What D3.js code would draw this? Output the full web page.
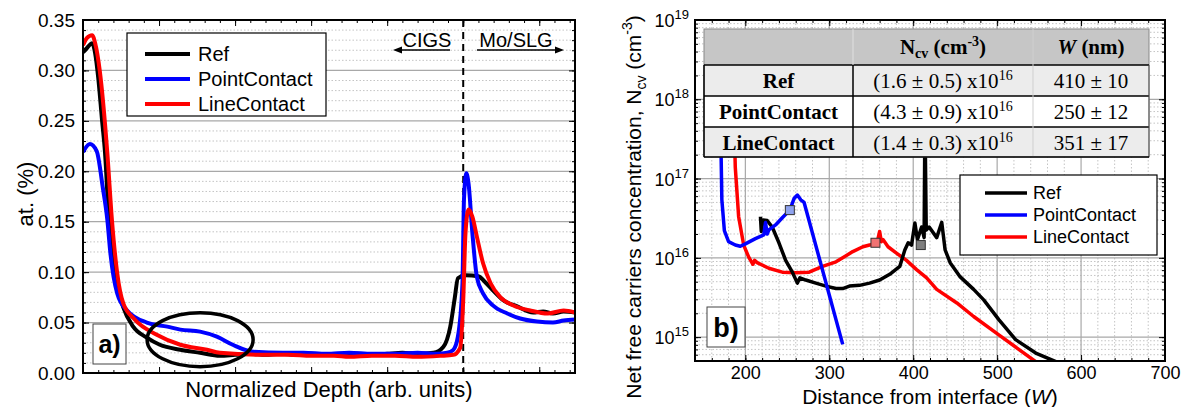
<!DOCTYPE html>
<html>
<head>
<meta charset="utf-8">
<script src="https://cdn.jsdelivr.net/npm/d3@7"></script>
<style>
  body { margin: 0; background: #fff; }
  svg { display: block; font-family: "Liberation Sans", Arial, sans-serif; }
</style>
</head>
<body>
<svg id="chart" width="1184" height="407"></svg>
<script>
// ---- panel a data (normalized depth, at. %) ----
const depthRef = [0, 0.05, 0.12, 0.16, 0.20, 0.25, 0.29, 0.34, 0.42, 0.53, 0.66, 0.84, 1.01, 1.28, 1.54, 1.80, 2.0, 2.2, 2.4, 2.6, 2.8, 3.0, 3.2, 3.4, 3.6, 3.8, 4.0, 4.2, 4.4, 4.61, 4.74, 4.83, 4.89, 4.93, 5.03, 5.20, 5.29, 5.39, 5.53, 5.71, 5.92, 6.05, 6.18, 6.32, 6.47];
const atRef    = [0.318, 0.322, 0.327, 0.317, 0.293, 0.251, 0.218, 0.152, 0.099, 0.065, 0.046, 0.035, 0.028, 0.023, 0.020, 0.017, 0.018, 0.019, 0.018, 0.019, 0.018, 0.019, 0.018, 0.018, 0.019, 0.018, 0.019, 0.020, 0.019, 0.020, 0.026, 0.046, 0.075, 0.094, 0.097, 0.096, 0.090, 0.082, 0.072, 0.066, 0.060, 0.061, 0.059, 0.061, 0.060];

const depthPoint = [0, 0.09, 0.18, 0.26, 0.32, 0.36, 0.45, 0.58, 0.84, 1.11, 1.28, 1.54, 1.76, 1.97, 2.24, 2.63, 2.9, 3.2, 3.5, 3.8, 4.1, 4.4, 4.65, 4.79, 4.87, 4.93, 4.99, 5.01, 5.04, 5.07, 5.12, 5.18, 5.26, 5.39, 5.58, 5.75, 5.97, 6.18, 6.32, 6.47];
const atPoint    = [0.219, 0.227, 0.220, 0.184, 0.152, 0.119, 0.079, 0.062, 0.050, 0.046, 0.043, 0.041, 0.036, 0.028, 0.021, 0.020, 0.020, 0.019, 0.020, 0.019, 0.019, 0.020, 0.019, 0.020, 0.023, 0.036, 0.089, 0.172, 0.198, 0.188, 0.139, 0.095, 0.079, 0.067, 0.059, 0.054, 0.051, 0.050, 0.052, 0.053];

const depthLine = [0, 0.05, 0.12, 0.16, 0.22, 0.32, 0.38, 0.45, 0.53, 0.68, 0.97, 1.28, 1.63, 1.80, 2.42, 2.7, 3.0, 3.3, 3.5, 3.8, 4.1, 4.4, 4.7, 4.87, 4.96, 5.0, 5.03, 5.07, 5.12, 5.18, 5.26, 5.36, 5.49, 5.66, 5.88, 6.11, 6.32, 6.47];
const atLine    = [0.325, 0.332, 0.335, 0.327, 0.300, 0.218, 0.152, 0.099, 0.069, 0.053, 0.038, 0.028, 0.023, 0.020, 0.018, 0.018, 0.017, 0.017, 0.016, 0.017, 0.017, 0.016, 0.017, 0.018, 0.025, 0.072, 0.139, 0.162, 0.155, 0.135, 0.109, 0.089, 0.075, 0.067, 0.062, 0.059, 0.062, 0.060];

const yTicksA = [0, 0.05, 0.10, 0.15, 0.20, 0.25, 0.30, 0.35];

// ---- panel b data (distance nm, Ncv cm^-3) ----
const distRef = [218, 219, 221, 226, 232, 240, 248, 256, 262, 265, 272, 284, 296, 308, 316, 324, 336, 348, 360, 372, 384, 390, 394, 398, 402, 405, 410, 413, 414, 415.5, 419, 428, 434, 438, 444, 456, 472, 484, 502, 522, 546, 570];
const ncvRef  = [3.3e16, 2.15e16, 3.0e16, 2.95e16, 2.45e16, 1.55e16, 9.3e15, 6.6e15, 4.8e15, 5.6e15, 5.25e15, 4.8e15, 4.4e15, 4.1e15, 4.1e15, 4.4e15, 4.5e15, 4.8e15, 5.25e15, 6.2e15, 7.8e15, 1.26e16, 1.55e16, 1.45e16, 2.75e16, 1.7e16, 2.45e16, 1.8e16, 6.3e17, 2.25e16, 2.45e16, 1.8e16, 2.8e16, 1.26e16, 8.7e15, 5.75e15, 4.0e15, 2.95e15, 1.66e15, 9.3e14, 6.3e14, 4.9e14];

const distPoint = [170.5, 171, 172, 175, 180, 188, 194, 200, 212, 222, 224, 226, 228, 236, 244, 253, 258, 262, 266, 270, 316];
const ncvPoint  = [5e17, 2.3e17, 5.4e16, 2.2e16, 1.6e16, 1.45e16, 1.4e16, 1.5e16, 1.75e16, 1.95e16, 2.8e16, 2.0e16, 2.25e16, 2.6e16, 3.2e16, 4.0e16, 5.6e16, 6.2e16, 5.4e16, 5.0e16, 8.1e14];

const distLine = [186.5, 188, 192, 198, 204, 209, 211, 214, 228, 244, 260, 276, 292, 308, 316, 328, 340, 348, 355, 358, 360, 362, 364, 370, 380, 392, 404, 416, 428, 452, 472, 502, 546];
const ncvLine  = [6.3e17, 1.38e17, 3.3e16, 1.45e16, 1.02e16, 8.3e15, 9.3e15, 8.7e15, 7.4e15, 6.6e15, 6.5e15, 6.6e15, 7.8e15, 8.9e15, 1.0e16, 1.2e16, 1.38e16, 1.45e16, 1.55e16, 1.74e16, 2.15e16, 1.6e16, 1.7e16, 1.38e16, 1.15e16, 9.3e15, 7.1e15, 5.6e15, 4.0e15, 2.7e15, 1.82e15, 1.07e15, 4.9e14];

// W markers
const markW   = [409, 253, 355];
const markNcv = [1.45e16, 4.0e16, 1.55e16];

const seriesNames  = ["Ref", "PointContact", "LineContact"];
const seriesColors = ["#000000", "#0000ff", "#ff0000"];
const markerFills  = ["#7f7f7f", "#8fa3ee", "#f07272"];

// table
const tblNcv = ["(1.6 ± 0.5) x10", "(4.3 ± 0.9) x10", "(1.4 ± 0.3) x10"];
const tblW   = ["410 ± 10", "250 ± 12", "351 ± 17"];

const svg = d3.select("#chart");
svg.append("rect").attr("width", 1184).attr("height", 407).attr("fill", "#fff");

function styleAxis(g, size) {
  g.attr("font-family", "Liberation Sans, Arial, sans-serif").attr("font-size", size);
  g.select(".domain").remove();
  g.selectAll("line").attr("stroke", "#000").attr("stroke-width", 1);
  g.selectAll("text").attr("fill", "#000");
}

// =================== panel a ===================
const A = { left: 83, right: 575, top: 20, bottom: 373 };
const xa = d3.scaleLinear().domain([0, 6.47]).range([A.left, A.right]);
const ya = d3.scaleLinear().domain([0, 0.35]).range([A.bottom, A.top]);
const ga = svg.append("g");

ga.append("clipPath").attr("id", "clipA").append("rect")
  .attr("x", A.left).attr("y", A.top).attr("width", A.right - A.left).attr("height", A.bottom - A.top);

const minorYA = d3.range(0, 36).map(i => i / 100);
ga.append("g").selectAll("line").data(minorYA.filter(d => Math.round(d * 100) % 5 !== 0)).join("line")
  .attr("x1", A.left).attr("x2", A.right).attr("y1", d => ya(d)).attr("y2", d => ya(d))
  .attr("stroke", "#c4c4c4").attr("stroke-width", 1).attr("stroke-dasharray", "1.5,2");
ga.append("g").selectAll("line").data(yTicksA.slice(1, -1)).join("line")
  .attr("x1", A.left).attr("x2", A.right).attr("y1", d => ya(d)).attr("y2", d => ya(d))
  .attr("stroke", "#a8a8a8").attr("stroke-width", 1.2);

const majorXA = d3.range(0, 7);
const minorXA = d3.range(0, 33).map(i => i * 0.2);

ga.append("g").attr("transform", `translate(${A.left},0)`)
  .call(d3.axisLeft(ya).tickValues(yTicksA).tickSize(-6).tickPadding(8).tickFormat(d3.format(".2f")))
  .call(g => styleAxis(g, 19));
ga.append("g").attr("transform", `translate(${A.left},0)`)
  .call(d3.axisLeft(ya).tickValues(minorYA).tickSize(-3).tickFormat("")).call(g => styleAxis(g, 10));
ga.append("g").attr("transform", `translate(${A.right},0)`)
  .call(d3.axisRight(ya).tickValues(yTicksA).tickSize(-6).tickFormat("")).call(g => styleAxis(g, 10));
ga.append("g").attr("transform", `translate(${A.right},0)`)
  .call(d3.axisRight(ya).tickValues(minorYA).tickSize(-3).tickFormat("")).call(g => styleAxis(g, 10));
ga.append("g").attr("transform", `translate(0,${A.bottom})`)
  .call(d3.axisBottom(xa).tickValues(majorXA).tickSize(-6).tickFormat("")).call(g => styleAxis(g, 10));
ga.append("g").attr("transform", `translate(0,${A.bottom})`)
  .call(d3.axisBottom(xa).tickValues(minorXA).tickSize(-3).tickFormat("")).call(g => styleAxis(g, 10));
ga.append("g").attr("transform", `translate(0,${A.top})`)
  .call(d3.axisTop(xa).tickValues(majorXA).tickSize(-6).tickFormat("")).call(g => styleAxis(g, 10));
ga.append("g").attr("transform", `translate(0,${A.top})`)
  .call(d3.axisTop(xa).tickValues(minorXA).tickSize(-3).tickFormat("")).call(g => styleAxis(g, 10));

// interface line
ga.append("line").attr("x1", xa(5)).attr("x2", xa(5)).attr("y1", A.top).attr("y2", A.bottom)
  .attr("stroke", "#000").attr("stroke-width", 2).attr("stroke-dasharray", "7,5");

const lineA = d3.line().x(d => xa(d[0])).y(d => ya(d[1])).curve(d3.curveMonotoneX);
const seriesA = [d3.zip(depthRef, atRef), d3.zip(depthPoint, atPoint), d3.zip(depthLine, atLine)];
const plotA = ga.append("g").attr("clip-path", "url(#clipA)");
[0, 1, 2].forEach(i => {
  plotA.append("path").datum(seriesA[i]).attr("d", lineA)
    .attr("fill", "none").attr("stroke", seriesColors[i]).attr("stroke-width", 4).attr("stroke-linejoin", "round");
});

// ellipse annotation
ga.append("ellipse").attr("cx", xa(1.54)).attr("cy", ya(0.033)).attr("rx", 53).attr("ry", 27)
  .attr("fill", "none").attr("stroke", "#000").attr("stroke-width", 3.5);

// CIGS / Mo/SLG labels
ga.append("text").attr("x", 427).attr("y", 47).attr("text-anchor", "middle").attr("font-size", 20).text("CIGS");
ga.append("text").attr("x", 516).attr("y", 47).attr("text-anchor", "middle").attr("font-size", 20).text("Mo/SLG");
ga.append("line").attr("x1", 398).attr("x2", 450).attr("y1", 50).attr("y2", 50).attr("stroke", "#000").attr("stroke-width", 1.5);
ga.append("path").attr("d", "M393,50 L402,46.5 L402,53.5 Z").attr("fill", "#000");
ga.append("line").attr("x1", 477).attr("x2", 558).attr("y1", 50).attr("y2", 50).attr("stroke", "#000").attr("stroke-width", 1.5);
ga.append("path").attr("d", "M564,50 L555,46.5 L555,53.5 Z").attr("fill", "#000");

// legend a
const legA = ga.append("g");
legA.append("rect").attr("x", 127).attr("y", 33).attr("width", 199).attr("height", 83)
  .attr("fill", "#fff").attr("stroke", "#000").attr("stroke-width", 1.2);
seriesNames.forEach((n, i) => {
  const y = 54 + i * 25;
  legA.append("line").attr("x1", 145).attr("x2", 190).attr("y1", y).attr("y2", y)
    .attr("stroke", seriesColors[i]).attr("stroke-width", 4);
  legA.append("text").attr("x", 198).attr("y", y + 7).attr("font-size", 20).text(n);
});

// a) box
ga.append("rect").attr("x", 93).attr("y", 324).attr("width", 33).attr("height", 40)
  .attr("fill", "#fff").attr("stroke", "#444").attr("stroke-width", 1);
ga.append("text").attr("x", 109.5).attr("y", 353).attr("text-anchor", "middle")
  .attr("font-size", 25).attr("font-weight", "bold").text("a)");

ga.append("rect").attr("x", A.left).attr("y", A.top).attr("width", A.right - A.left).attr("height", A.bottom - A.top)
  .attr("fill", "none").attr("stroke", "#000").attr("stroke-width", 2);

ga.append("text").attr("x", (A.left + A.right) / 2).attr("y", 397).attr("text-anchor", "middle")
  .attr("font-size", 22).text("Normalized Depth (arb. units)");
ga.append("text").attr("transform", "translate(33,194) rotate(-90)").attr("text-anchor", "middle")
  .attr("font-size", 22).text("at. (%)");

// =================== panel b ===================
const B = { left: 695, right: 1165, top: 20, bottom: 361 };
const xb = d3.scaleLinear().domain([140, 700]).range([B.left, B.right]);
const yb = d3.scaleLog().domain([5e14, 1e19]).range([B.bottom, B.top]);
const gb = svg.append("g");

gb.append("clipPath").attr("id", "clipB").append("rect")
  .attr("x", B.left).attr("y", B.top).attr("width", B.right - B.left).attr("height", B.bottom - B.top);

const majorXB = d3.range(200, 701, 100);
const minorXB = d3.range(140, 701, 20);
const decades = [1e15, 1e16, 1e17, 1e18, 1e19];
const minorYB = [];
[14, 15, 16, 17, 18].forEach(e => d3.range(1, 10).forEach(m => {
  const v = m * Math.pow(10, e);
  if (v >= 5e14 && v <= 1e19) minorYB.push(v);
}));

gb.append("g").selectAll("line").data(minorXB.filter(d => d % 100 !== 0)).join("line")
  .attr("x1", d => xb(d)).attr("x2", d => xb(d)).attr("y1", B.top).attr("y2", B.bottom)
  .attr("stroke", "#c4c4c4").attr("stroke-dasharray", "1.5,2");
gb.append("g").selectAll("line").data(minorYB.filter(d => !decades.includes(d))).join("line")
  .attr("x1", B.left).attr("x2", B.right).attr("y1", d => yb(d)).attr("y2", d => yb(d))
  .attr("stroke", "#c4c4c4").attr("stroke-dasharray", "1.5,2");
gb.append("g").selectAll("line").data(majorXB.slice(0, -1)).join("line")
  .attr("x1", d => xb(d)).attr("x2", d => xb(d)).attr("y1", B.top).attr("y2", B.bottom)
  .attr("stroke", "#a8a8a8").attr("stroke-width", 1.2);
gb.append("g").selectAll("line").data(decades.slice(0, -1)).join("line")
  .attr("x1", B.left).attr("x2", B.right).attr("y1", d => yb(d)).attr("y2", d => yb(d))
  .attr("stroke", "#a8a8a8").attr("stroke-width", 1.2);

gb.append("g").attr("transform", `translate(0,${B.bottom})`)
  .call(d3.axisBottom(xb).tickValues(majorXB).tickSize(-6).tickPadding(5).tickFormat(d3.format("d")))
  .call(g => styleAxis(g, 18));
gb.append("g").attr("transform", `translate(0,${B.bottom})`)
  .call(d3.axisBottom(xb).tickValues(minorXB).tickSize(-3).tickFormat("")).call(g => styleAxis(g, 10));
gb.append("g").attr("transform", `translate(0,${B.top})`)
  .call(d3.axisTop(xb).tickValues(majorXB).tickSize(-6).tickFormat("")).call(g => styleAxis(g, 10));
gb.append("g").attr("transform", `translate(0,${B.top})`)
  .call(d3.axisTop(xb).tickValues(minorXB).tickSize(-3).tickFormat("")).call(g => styleAxis(g, 10));
gb.append("g").attr("transform", `translate(${B.left},0)`)
  .call(d3.axisLeft(yb).tickValues(decades).tickSize(-6).tickFormat("")).call(g => styleAxis(g, 10));
gb.append("g").attr("transform", `translate(${B.left},0)`)
  .call(d3.axisLeft(yb).tickValues(minorYB).tickSize(-3).tickFormat("")).call(g => styleAxis(g, 10));
gb.append("g").attr("transform", `translate(${B.right},0)`)
  .call(d3.axisRight(yb).tickValues(decades).tickSize(-6).tickFormat("")).call(g => styleAxis(g, 10));
gb.append("g").attr("transform", `translate(${B.right},0)`)
  .call(d3.axisRight(yb).tickValues(minorYB).tickSize(-3).tickFormat("")).call(g => styleAxis(g, 10));

// log labels 10^n
decades.forEach(d => {
  const t = gb.append("text").attr("x", 689).attr("y", yb(d) + 7).attr("text-anchor", "end").attr("font-size", 18);
  t.append("tspan").text("10");
  t.append("tspan").attr("font-size", 13).attr("dy", -8).text(Math.round(Math.log10(d)));
});

const lineB = d3.line().x(d => xb(d[0])).y(d => yb(d[1]));
const seriesB = [d3.zip(distRef, ncvRef), d3.zip(distPoint, ncvPoint), d3.zip(distLine, ncvLine)];
const plotB = gb.append("g").attr("clip-path", "url(#clipB)");
[2, 0, 1].forEach(i => {
  plotB.append("path").datum(seriesB[i]).attr("d", lineB)
    .attr("fill", "none").attr("stroke", seriesColors[i]).attr("stroke-width", 3.5).attr("stroke-linejoin", "round");
});
plotB.selectAll("rect.mark").data(d3.zip(markW, markNcv, markerFills)).join("rect").attr("class", "mark")
  .attr("x", d => xb(d[0]) - 4.5).attr("y", d => yb(d[1]) - 4.5).attr("width", 9).attr("height", 9)
  .attr("fill", d => d[2]).attr("stroke", "#333").attr("stroke-width", 1);

// table
const tb = gb.append("g").attr("font-family", "Liberation Serif, Times New Roman, serif").attr("fill", "#000");
const colX = [704, 853, 1033, 1149];
const rowY = [29, 65, 96, 127, 157];
const rowFill = ["#c6c6c6", "#ececec", "#ffffff", "#ececec"];
rowFill.forEach((f, r) => {
  tb.append("rect").attr("x", colX[0]).attr("y", rowY[r]).attr("width", colX[3] - colX[0]).attr("height", rowY[r + 1] - rowY[r])
    .attr("fill", f);
});
tb.append("rect").attr("x", colX[0]).attr("y", rowY[0]).attr("width", colX[3] - colX[0]).attr("height", rowY[4] - rowY[0])
  .attr("fill", "none").attr("stroke", "#888").attr("stroke-width", 1);
rowY.slice(1, 4).forEach(y => {
  tb.append("line").attr("x1", colX[0]).attr("x2", colX[3]).attr("y1", y).attr("y2", y).attr("stroke", "#000").attr("stroke-width", 1.5);
});
tb.append("line").attr("x1", colX[0]).attr("x2", colX[0]).attr("y1", rowY[1]).attr("y2", rowY[4]).attr("stroke", "#000").attr("stroke-width", 1.5);
tb.append("line").attr("x1", colX[1]).attr("x2", colX[1]).attr("y1", rowY[1]).attr("y2", rowY[4]).attr("stroke", "#000").attr("stroke-width", 1.5);
tb.append("line").attr("x1", colX[1]).attr("x2", colX[1]).attr("y1", rowY[0]).attr("y2", rowY[1]).attr("stroke", "#e0e0e0").attr("stroke-width", 1);
tb.append("line").attr("x1", colX[2]).attr("x2", colX[2]).attr("y1", rowY[0]).attr("y2", rowY[4]).attr("stroke", "#cfcfcf").attr("stroke-width", 1);
tb.append("line").attr("x1", colX[3]).attr("x2", colX[3]).attr("y1", rowY[1]).attr("y2", rowY[4]).attr("stroke", "#555").attr("stroke-width", 1);
tb.append("line").attr("x1", colX[0]).attr("x2", colX[3]).attr("y1", rowY[4]).attr("y2", rowY[4]).attr("stroke", "#000").attr("stroke-width", 1.5);

const h1 = tb.append("text").attr("x", (colX[1] + colX[2]) / 2).attr("y", 54).attr("text-anchor", "middle")
  .attr("font-size", 21).attr("font-weight", "bold");
h1.append("tspan").text("N");
h1.append("tspan").attr("font-size", 14).attr("dy", 4).text("cv");
h1.append("tspan").attr("dy", -4).text(" (cm");
h1.append("tspan").attr("font-size", 14).attr("dy", -8).text("-3");
h1.append("tspan").attr("dy", 8).text(")");
const h2 = tb.append("text").attr("x", (colX[2] + colX[3]) / 2).attr("y", 54).attr("text-anchor", "middle")
  .attr("font-size", 21).attr("font-weight", "bold");
h2.append("tspan").attr("font-style", "italic").text("W");
h2.append("tspan").text(" (nm)");

seriesNames.forEach((n, r) => {
  const y = rowY[r + 1] + 23;
  tb.append("text").attr("x", (colX[0] + colX[1]) / 2).attr("y", y).attr("text-anchor", "middle")
    .attr("font-size", 21).attr("font-weight", "bold").text(n);
  const t = tb.append("text").attr("x", (colX[1] + colX[2]) / 2).attr("y", y).attr("text-anchor", "middle").attr("font-size", 21);
  t.append("tspan").text(tblNcv[r]);
  t.append("tspan").attr("font-size", 14).attr("dy", -8).text("16");
  tb.append("text").attr("x", (colX[2] + colX[3]) / 2).attr("y", y).attr("text-anchor", "middle").attr("font-size", 21).text(tblW[r]);
});

// legend b
const legB = gb.append("g");
legB.append("rect").attr("x", 960).attr("y", 175).attr("width", 197).attr("height", 80)
  .attr("fill", "#fff").attr("stroke", "#000").attr("stroke-width", 1.2);
seriesNames.forEach((n, i) => {
  const y = 193 + i * 22;
  legB.append("line").attr("x1", 985).attr("x2", 1027).attr("y1", y).attr("y2", y)
    .attr("stroke", seriesColors[i]).attr("stroke-width", 3.5);
  legB.append("text").attr("x", 1033).attr("y", y + 6).attr("font-size", 18).text(n);
});

// b) box
gb.append("rect").attr("x", 707).attr("y", 307).attr("width", 38).attr("height", 40)
  .attr("fill", "#fff").attr("stroke", "#444").attr("stroke-width", 1);
gb.append("text").attr("x", 726).attr("y", 337).attr("text-anchor", "middle")
  .attr("font-size", 27).attr("font-weight", "bold").text("b)");

gb.append("rect").attr("x", B.left).attr("y", B.top).attr("width", B.right - B.left).attr("height", B.bottom - B.top)
  .attr("fill", "none").attr("stroke", "#000").attr("stroke-width", 2);

const xt = gb.append("text").attr("x", (B.left + B.right) / 2).attr("y", 404).attr("text-anchor", "middle").attr("font-size", 21);
xt.append("tspan").text("Distance from interface (");
xt.append("tspan").attr("font-style", "italic").text("W");
xt.append("tspan").text(")");

const yt = gb.append("text").attr("transform", "translate(641,207) rotate(-90)").attr("text-anchor", "middle").attr("font-size", 21);
yt.append("tspan").text("Net free carriers concentration, N");
yt.append("tspan").attr("font-size", 14).attr("dy", 5).text("cv");
yt.append("tspan").attr("dy", -5).text(" (cm");
yt.append("tspan").attr("font-size", 14).attr("dy", -9).text("-3");
yt.append("tspan").attr("dy", 9).text(")");
</script>
</body>
</html>
